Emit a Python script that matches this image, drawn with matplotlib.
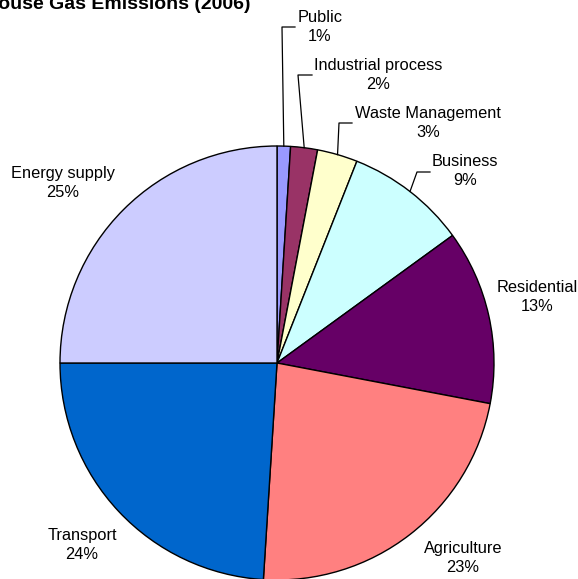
import numpy as np
import matplotlib
matplotlib.use("Agg")
import matplotlib.pyplot as plt

plt.rcParams['font.family'] = ['Liberation Sans', 'DejaVu Sans']

# Emission shares by sector, clockwise from 12 o'clock
sectors = ["Public", "Industrial process", "Waste Management", "Business",
           "Residential", "Agriculture", "Transport", "Energy supply"]
shares = [1, 2, 3, 9, 13, 23, 24, 25]
colors = ["#9999FF", "#993366", "#FFFFCC", "#CCFFFF",
          "#660066", "#FF8080", "#0066CC", "#CCCCFF"]
title = "Greenhouse Gas Emissions (2006)"

W, H = 578, 579
fig = plt.figure(figsize=(W / 100, H / 100), dpi=100)
ax = fig.add_axes([0, 0, 1, 1])

cx, cy, r = 277, H - 363, 217
ax.pie(shares, colors=colors, startangle=90, counterclock=False,
       center=(cx, cy), radius=r,
       wedgeprops=dict(edgecolor='black', linewidth=1.0), frame=True)
ax.set_xlim(0, W)
ax.set_ylim(0, H)
ax.set_aspect('equal')
ax.axis('off')

# label centres (pixel coords from top-left) and optional leader elbows
label_pos = [(320, 27), (378, 75), (428, 123), (465, 171),
             (537, 297), (463, 558), (82, 545), (63, 183)]
elbows = [[(282, 27), (295, 27)],
          [(298, 75), (312, 75)],
          [(339, 123), (352, 123)],
          [(417, 172), (430, 172)],
          None, None, None, None]

total = sum(shares)
cum = np.cumsum([0] + shares)
for i, (name, val) in enumerate(zip(sectors, shares)):
    lx, ly = label_pos[i]
    ax.text(lx, H - ly, f"{name}\n{val}%", ha='center', va='center',
            fontsize=11.8, linespacing=1.3, color='black')
    if elbows[i] is not None:
        mid = (cum[i] + cum[i + 1]) / 2 / total * 360
        th = np.deg2rad(mid)
        sx, sy = cx + r * np.sin(th), cy + r * np.cos(th)
        xs = [sx] + [p[0] for p in elbows[i]]
        ys = [sy] + [H - p[1] for p in elbows[i]]
        ax.plot(xs, ys, color='black', linewidth=0.9)

ax.text(250, H - 9, title, ha='right', va='baseline',
        fontsize=14, fontweight='bold')

fig.savefig("out.png", dpi=100)
